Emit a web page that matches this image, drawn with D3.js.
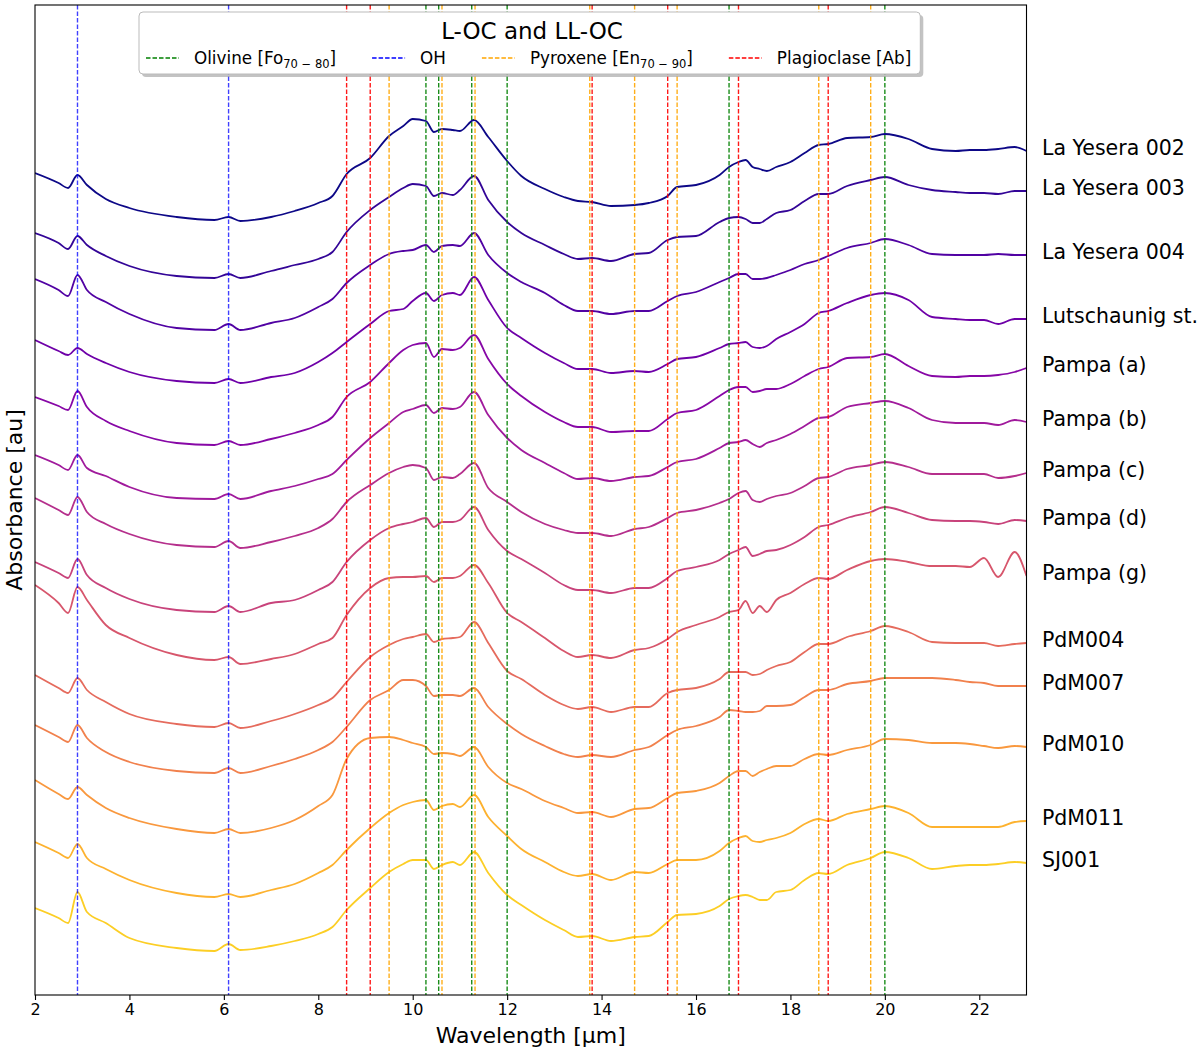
<!DOCTYPE html>
<html lang="en">
<head>
<meta charset="utf-8">
<title>L-OC and LL-OC</title>
<script src="https://cdn.jsdelivr.net/npm/d3@7"></script>
<style>
  body { margin: 0; background: #fff; }
  svg { font-family: "DejaVu Sans", sans-serif; }
  .axis path, .axis line { stroke: #000; stroke-width: 1.1; }
  .axis text { font-size: 16px; fill: #000; font-family: "DejaVu Sans", sans-serif; }
  .spectrum { fill: none; stroke-width: 1.8; stroke-linejoin: round; }
  .band { stroke-width: 1.4; stroke-dasharray: 4.5,2; }
</style>
</head>
<body>
<script>
// wavelength grid [um] shared by all spectra
var wavelength = [2.0, 2.5, 2.7, 2.9, 3.1, 3.5, 4.0, 5.0, 5.8, 6.1, 6.35, 7.0, 7.5, 8.0, 8.3, 8.6, 9.1, 9.5, 9.8, 10.0,
  10.28, 10.45, 10.62, 10.85, 11.0, 11.3, 11.6, 12.0, 12.3, 12.8, 13.2, 13.5, 13.8, 14.2, 14.7, 15.0, 15.4, 15.6, 16.0, 16.5,
  16.7, 16.9, 17.05, 17.2, 17.35, 17.5, 17.7, 18.0, 18.3, 18.6, 18.8, 19.2, 19.7, 20.0, 20.5, 21.0, 21.5, 21.8, 22.1, 22.4,
  22.75, 23.0];

var sampleNames = ["La Yesera 002", "La Yesera 003", "La Yesera 004", "Lutschaunig st.", "Pampa (a)", "Pampa (b)",
  "Pampa (c)", "Pampa (d)", "Pampa (g)", "PdM004", "PdM007", "PdM010", "PdM011", "SJ001"];

// absorbance, arbitrary units (spectra already stacked with offsets)
var laYesera002 = [827,817,812,825,815,801,792,783,780,783,779,783,789,797,804,826,842,864,874,881,879,868,871,870,869,880,863,839,824,811,803,799,798,794,795,797,804,813,815,825,833,838,840,833,831,829,833,838,847,855,856,862,863,866,861,851,849,850,850,851,853,849];
var laYesera003 = [767,757,751,764,755,744,734,724,722,726,722,729,735,741,748,768,790,803,812,816,814,804,807,805,810,824,800,778,767,755,746,741,742,739,746,747,760,763,764,778,782,783,781,777,777,781,787,790,799,806,806,814,820,823,815,810,808,807,807,806,809,809];
var laYesera004 = [721,710,704,725,710,698,686,672,670,676,670,677,682,693,701,717,735,746,749,750,755,748,754,755,754,767,745,727,718,707,695,689,689,686,689,689,699,704,708,718,722,726,726,721,721,722,725,730,736,740,744,752,757,761,755,746,745,745,745,746,745,745];
var lutschaunig = [660,649,645,652,646,637,628,619,617,621,617,623,627,638,647,658,676,689,691,699,707,699,705,707,705,723,700,672,662,647,637,631,631,627,629,628,636,641,643,652,656,657,658,653,652,654,661,668,676,687,689,697,705,707,700,683,681,680,680,676,681,681];
var pampaA = [603,594,590,609,593,579,569,557,555,559,555,561,567,575,583,603,618,637,650,655,657,643,651,650,652,665,641,616,604,588,578,573,573,568,569,569,581,587,590,604,610,613,613,608,609,611,611,616,624,631,633,642,643,646,634,624,623,624,624,625,628,632];
var pampaB = [545,535,530,545,532,524,513,502,501,506,501,509,514,521,526,540,562,577,588,591,595,587,592,591,593,608,585,562,550,537,527,521,522,519,523,524,533,538,541,552,557,558,560,556,553,557,560,566,574,582,583,593,597,599,592,580,577,577,577,575,580,578];
var pampaC = [502,490,485,503,488,476,466,455,453,459,452,458,464,472,481,498,515,527,533,535,532,520,523,522,526,537,512,498,488,476,470,467,467,464,471,473,482,487,490,497,501,507,509,500,498,501,504,507,514,522,523,531,535,538,533,526,526,526,526,522,524,527];
var pampaD = [438,427,422,441,425,412,401,390,388,394,388,397,400,410,418,438,460,472,476,478,482,473,478,478,480,493,470,449,441,427,415,410,410,407,412,412,422,429,433,440,446,450,453,444,446,449,450,455,463,473,475,482,488,493,487,480,479,479,478,476,480,479];
var pampaG = [415,397,387,413,400,375,362,345,340,343,336,341,346,356,362,385,412,422,423,423,424,418,422,422,424,435,417,387,378,362,349,343,345,342,350,352,361,368,375,383,388,390,399,387,394,388,400,407,416,422,421,430,439,441,438,434,434,433,442,423,448,424];
var pdm004 = [325,312,307,322,310,298,286,276,273,277,272,279,286,295,302,318,343,355,361,363,366,358,361,362,363,378,357,329,321,305,295,291,293,288,293,293,307,310,312,321,328,328,328,325,326,330,334,338,348,356,356,363,369,374,368,358,357,357,357,354,356,357];
var pdm007 = [275,263,258,275,262,248,238,229,227,232,227,234,241,250,258,273,300,310,320,320,314,304,305,305,304,312,293,276,266,254,246,243,245,243,250,253,265,270,274,283,290,289,288,288,289,294,294,295,303,310,310,316,319,322,322,322,320,318,317,314,314,314];
var pdm010 = [220,206,201,213,205,192,182,171,167,171,167,172,180,194,205,241,262,263,260,257,253,246,247,246,244,253,233,217,211,199,192,187,188,183,191,192,202,207,209,217,224,229,229,224,228,231,234,234,241,246,245,250,255,261,260,257,257,256,254,252,254,253];
var pdm011 = [158,147,142,156,142,131,120,107,103,106,103,110,116,127,135,150,172,187,195,198,200,190,194,196,193,205,183,164,151,138,128,124,126,120,128,127,136,140,140,149,157,162,164,159,158,160,162,167,176,181,179,186,191,194,187,173,173,173,173,173,178,179];
var sj001 = [92,82,77,108,88,77,62,52,49,56,50,54,59,66,73,90,112,128,136,140,140,131,135,138,135,148,127,105,95,80,70,63,64,59,63,64,78,85,86,94,101,104,105,103,100,100,108,110,120,127,126,135,142,148,142,131,134,135,135,136,138,137];

// band positions [um]
var olivine = [10.28, 10.55, 11.25, 12.0, 16.7, 20.0];
var oh = [2.9, 6.1];
var pyroxene = [9.5, 10.62, 11.32, 13.75, 14.7, 15.6, 18.6, 19.7];
var plagioclase = [8.6, 9.1, 13.8, 15.4, 16.9, 18.8];

var xTicks = [2, 4, 6, 8, 10, 12, 14, 16, 18, 20, 22];

var spectra = [laYesera002, laYesera003, laYesera004, lutschaunig, pampaA, pampaB, pampaC,
  pampaD, pampaG, pdm004, pdm007, pdm010, pdm011, sj001];

var w = 1200, h = 1051;
var pL = 35, pR = 1026.5, pT = 5, pB = 995;

var xScale = d3.scaleLinear().domain([2, 23]).range([pL, pR]);
var yScale = d3.scaleLinear().domain([5, 995]).range([pB, pT]);

var svg = d3.select("body").append("svg")
  .attr("width", w)
  .attr("height", h);

svg.append("clipPath").attr("id", "plot-clip")
  .append("rect")
  .attr("x", pL).attr("y", pT)
  .attr("width", pR - pL).attr("height", pB - pT);

var plot = svg.append("g").attr("clip-path", "url(#plot-clip)");

// spectra
var line = d3.line()
  .x(function(d, i) { return xScale(wavelength[i]); })
  .y(function(d) { return yScale(d); })
  .curve(d3.curveMonotoneX);

function specColor(i) { return d3.interpolatePlasma(0.9 * i / (spectra.length - 1)); }

plot.selectAll(".spectrum")
  .data(spectra)
  .enter().append("path")
  .attr("class", "spectrum")
  .attr("stroke", function(d, i) { return specColor(i); })
  .attr("d", line);

// band lines
var bands = [
  { pos: olivine, color: "green", opacity: 0.9 },
  { pos: oh, color: "blue", opacity: 0.75 },
  { pos: pyroxene, color: "orange", opacity: 0.9 },
  { pos: plagioclase, color: "red", opacity: 0.9 }
];

bands.forEach(function(b) {
  plot.selectAll(null)
    .data(b.pos)
    .enter().append("line")
    .attr("class", "band")
    .attr("x1", function(d) { return xScale(d); })
    .attr("x2", function(d) { return xScale(d); })
    .attr("y1", pT)
    .attr("y2", pB)
    .attr("stroke", b.color)
    .attr("stroke-opacity", b.opacity);
});

// frame
svg.append("rect")
  .attr("x", pL).attr("y", pT)
  .attr("width", pR - pL).attr("height", pB - pT)
  .attr("fill", "none")
  .attr("stroke", "#000")
  .attr("stroke-width", 1.1);

svg.append("g")
  .attr("class", "axis")
  .attr("transform", "translate(0," + pB + ")")
  .call(d3.axisBottom(xScale).tickValues(xTicks).tickSize(5).tickPadding(4).tickSizeOuter(0))
  .call(function(g) { g.select(".domain").remove(); });

svg.append("text")
  .text("Wavelength [µm]")
  .attr("x", (pL + pR) / 2)
  .attr("y", 1043)
  .attr("text-anchor", "middle")
  .attr("font-size", 22);

svg.append("text")
  .text("Absorbance [au]")
  .attr("transform", "rotate(-90)")
  .attr("x", -(pT + pB) / 2)
  .attr("y", 22)
  .attr("text-anchor", "middle")
  .attr("font-size", 22);

// sample names at the right end of each spectrum
svg.selectAll(".sample")
  .data(spectra)
  .enter().append("text")
  .attr("class", "sample")
  .attr("x", 1042)
  .attr("y", function(d) { return yScale(d[d.length - 1]) - 3; })
  .attr("dy", "0.35em")
  .attr("font-size", 20.5)
  .text(function(d, i) { return sampleNames[i]; });

// legend
var legendItems = [
  { name: "Olivine [Fo", sub: "70 − 80", tail: "]", color: "green" },
  { name: "OH", sub: "", tail: "", color: "blue" },
  { name: "Pyroxene [En", sub: "70 − 90", tail: "]", color: "orange" },
  { name: "Plagioclase [Ab]", sub: "", tail: "", color: "red" }
];

var legend = svg.append("g");
var shadow = legend.append("rect");
var box = legend.append("rect");

legend.append("text")
  .text("L-OC and LL-OC")
  .attr("x", 532)
  .attr("y", 39)
  .attr("text-anchor", "middle")
  .attr("font-size", 23);

var lx = 146, ly = 58, gap = 36;
legendItems.forEach(function(it) {
  legend.append("line")
    .attr("x1", lx).attr("x2", lx + 33)
    .attr("y1", ly).attr("y2", ly)
    .attr("stroke", it.color)
    .attr("stroke-width", 1.4)
    .attr("stroke-dasharray", "4.5,2");
  var t = legend.append("text")
    .attr("x", lx + 48)
    .attr("y", ly)
    .attr("dy", "0.35em")
    .attr("font-size", 16.8);
  t.append("tspan").text(it.name);
  if (it.sub) {
    t.append("tspan").text(it.sub).attr("font-size", 11.5).attr("dy", 4);
    t.append("tspan").text(it.tail).attr("dy", -4);
  }
  lx = lx + 48 + t.node().getComputedTextLength() + gap;
});

var bx = 139, by = 12, bw = lx - gap + 9 - bx, bh = 62;
shadow.attr("x", bx + 3).attr("y", by + 3).attr("width", bw).attr("height", bh)
  .attr("rx", 4).attr("fill", "#888").attr("fill-opacity", 0.5);
box.attr("x", bx).attr("y", by).attr("width", bw).attr("height", bh)
  .attr("rx", 4).attr("fill", "#fff").attr("stroke", "#bbb").attr("stroke-width", 1);
</script>
</body>
</html>
